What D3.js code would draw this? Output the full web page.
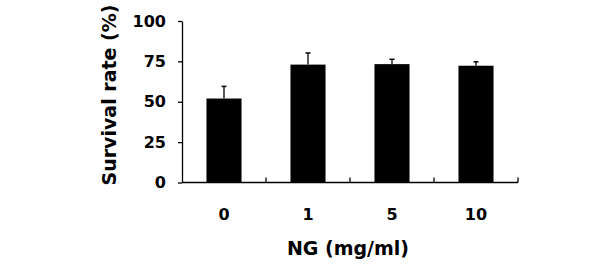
<!DOCTYPE html>
<html lang="en">
<head>
	<meta charset="utf-8">
	<title>Survival rate</title>
	<script src="https://d3js.org/d3.v7.min.js"></script>
	<style>
		body { margin: 0; background: #fff; }
		text { font-family: "DejaVu Sans", sans-serif; font-weight: bold; fill: #000; }
	</style>
</head>
<body>
	<script>
		// data
		var doses = ["0", "1", "5", "10"];
		var survival = [52, 73, 73.3, 72.3];
		var errors = [7.5, 7.2, 3, 2.4];
		var yTicks = [0, 25, 50, 75, 100];

		var width = 599;
		var height = 269;

		var svg = d3.select("body")
			.append("svg")
			.attr("width", width)
			.attr("height", height);

		var x = d3.scaleBand()
			.domain(doses)
			.range([182, 518])
			.paddingInner(0.583)
			.paddingOuter(0.2915);

		var y = d3.scaleLinear()
			.domain([0, 100])
			.range([182.5, 21]);

		// y axis, ticks pointing out
		var yAxis = svg.append("g")
			.attr("transform", "translate(182,0)")
			.call(d3.axisLeft(y).tickValues(yTicks).tickSize(4).tickPadding(12).tickSizeOuter(0));
		yAxis.selectAll("text").style("font-size", "16px");
		yAxis.select(".domain").attr("stroke-width", 1.3);
		yAxis.selectAll(".tick line").attr("stroke-width", 1.3);

		// x axis: baseline with small upward ticks between groups
		var step = x.step();
		var bounds = doses.map(function(d, i) { return x(d) - x.paddingOuter() * step + step; });
		svg.append("line")
			.attr("x1", x.range()[0]).attr("x2", x.range()[1])
			.attr("y1", y(0)).attr("y2", y(0))
			.attr("stroke", "#000").attr("stroke-width", 1.3);
		svg.selectAll(".xtick")
			.data(bounds)
			.enter().append("line")
			.attr("class", "xtick")
			.attr("x1", function(d) { return d; }).attr("x2", function(d) { return d; })
			.attr("y1", y(0)).attr("y2", y(0) - 5)
			.attr("stroke", "#000").attr("stroke-width", 1.3);

		svg.selectAll(".xlab")
			.data(doses)
			.enter().append("text")
			.attr("class", "xlab")
			.attr("x", function(d) { return x(d) + x.bandwidth() / 2; })
			.attr("y", 220)
			.attr("text-anchor", "middle")
			.style("font-size", "16px")
			.text(function(d) { return d; });

		// error bars (upper only)
		var err = svg.append("g");
		doses.forEach(function(d, i) {
			var cx = x(d) + x.bandwidth() / 2;
			err.append("line")
				.attr("x1", cx).attr("x2", cx)
				.attr("y1", y(survival[i])).attr("y2", y(survival[i] + errors[i]))
				.attr("stroke", "#000").attr("stroke-width", 1.3);
			err.append("line")
				.attr("x1", cx - 2.5).attr("x2", cx + 2.5)
				.attr("y1", y(survival[i] + errors[i])).attr("y2", y(survival[i] + errors[i]))
				.attr("stroke", "#000").attr("stroke-width", 1.5);
		});

		// bars
		svg.selectAll(".bar")
			.data(survival)
			.enter().append("rect")
			.attr("class", "bar")
			.attr("x", function(d, i) { return x(doses[i]); })
			.attr("width", x.bandwidth())
			.attr("y", function(d) { return y(d); })
			.attr("height", function(d) { return y(0) - y(d); })
			.attr("fill", "#000");

		// axis titles
		svg.append("text")
			.attr("transform", "translate(116,95) rotate(-90)")
			.attr("text-anchor", "middle")
			.style("font-size", "19px")
			.text("Survival rate (%)");

		svg.append("text")
			.attr("x", 348)
			.attr("y", 255)
			.attr("text-anchor", "middle")
			.style("font-size", "19px")
			.text("NG (mg/ml)");
	</script>
</body>
</html>
